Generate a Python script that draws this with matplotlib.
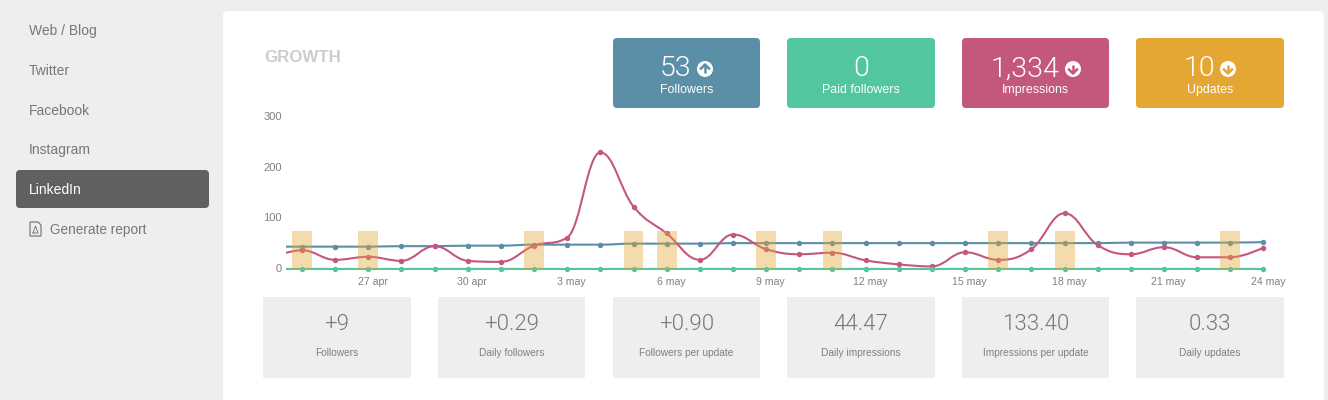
import matplotlib
matplotlib.use("Agg")
import matplotlib.pyplot as plt
import numpy as np
from matplotlib.patches import FancyBboxPatch, Circle, PathPatch, Polygon
from matplotlib.path import Path
from matplotlib.transforms import ScaledTranslation

plt.rcParams['font.family'] = ['Liberation Sans', 'DejaVu Sans']

# data
days = ["24 apr", "25 apr", "26 apr", "27 apr", "28 apr", "29 apr", "30 apr",
        "1 may", "2 may", "3 may", "4 may", "5 may", "6 may", "7 may", "8 may",
        "9 may", "10 may", "11 may", "12 may", "13 may", "14 may", "15 may",
        "16 may", "17 may", "18 may", "19 may", "20 may", "21 may", "22 may",
        "23 may", "24 may"]
followers = [44, 44, 44, 44, 45, 45, 46, 46, 48, 48, 48, 50, 50, 50, 51, 51,
             51, 51, 51, 51, 51, 51, 51, 51, 51, 51, 52, 52, 52, 52, 53]
paid = [0] * 31
impressions = [20, 37, 18, 24, 16, 45, 16, 14, 46, 62, 230, 123, 70, 18, 68, 39,
               29, 32, 17, 9, 5, 33, 18, 39, 110, 47, 29, 43, 23, 23, 42]
updates = [0, 1, 0, 1, 0, 0, 0, 0, 1, 0, 0, 1, 1, 0, 0, 1,
           0, 1, 0, 0, 0, 0, 1, 0, 1, 0, 0, 0, 0, 1, 0]

menu = ["Web / Blog", "Twitter", "Facebook", "Instagram", "LinkedIn"]
kpi_values = ["53", "0", "1,334", "10"]
kpi_labels = ["Followers", "Paid followers", "Impressions", "Updates"]
stat_values = ["+9", "+0.29", "+0.90", "44.47", "133.40", "0.33"]
stat_labels = ["Followers", "Daily followers", "Followers per update",
               "Daily impressions", "Impressions per update", "Daily updates"]

BLUE = "#5B8FA8"
GREEN = "#52C79F"
PINK = "#C4577E"
ORANGE = "#E5A733"
W, H = 1328, 400
LIGHT = ["Roboto", "Liberation Sans"]


def spline(x, y, smoothing=1.5):
    # bezier path, flat at the local peaks
    d = smoothing + 1
    verts = [(x[0], y[0])]
    codes = [Path.MOVETO]
    rights = [(x[0], y[0])]
    for i in range(1, len(x)):
        cx, cy = x[i], y[i]
        if i < len(x) - 1:
            px, py, nx, ny = x[i - 1], y[i - 1], x[i + 1], y[i + 1]
            lx = (smoothing * cx + px) / d
            ly = (smoothing * cy + py) / d
            rx = (smoothing * cx + nx) / d
            ry = (smoothing * cy + ny) / d
            slope = (ry - ly) / (rx - lx)
            ly = cy + (lx - cx) * slope
            ry = cy + (rx - cx) * slope
            if ly > py and ly > cy:
                ly = max(py, cy)
                ry = 2 * cy - ly
            elif ly < py and ly < cy:
                ly = min(py, cy)
                ry = 2 * cy - ly
            if ry > ny and ry > cy:
                ry = max(ny, cy)
                ly = 2 * cy - ry
            elif ry < ny and ry < cy:
                ry = min(ny, cy)
                ly = 2 * cy - ry
        else:
            lx, ly, rx, ry = cx, cy, cx, cy
        verts += [rights[-1], (lx, ly), (cx, cy)]
        codes += [Path.CURVE4] * 3
        rights.append((rx, ry))
    return Path(verts, codes)


fig = plt.figure(figsize=(W / 100, H / 100), dpi=100, facecolor="#EEEEEE")

# page furniture in pixel coordinates
ui = fig.add_axes([0, 0, 1, 1])
ui.set_xlim(0, W)
ui.set_ylim(H, 0)
ui.axis("off")


def box(x0, y0, x1, y1, color, r=4):
    ui.add_patch(FancyBboxPatch((x0, y0), x1 - x0, y1 - y0, boxstyle=f"round,pad=0,rounding_size={r}",
                                fc=color, ec="none"))


box(223, 11, 1324, 430, "white", 5)
box(16, 170, 209, 208, "#606060", 4)

for i, name in enumerate(menu):
    ui.text(29, [31, 71, 111, 150, 190][i], name, fontsize=10, va="center",
            color="white" if name == "LinkedIn" else "#777777")
ui.text(50, 230, "Generate report", fontsize=9.8, va="center", color="#777777")
# pdf icon
ui.add_patch(Polygon([(30, 222), (38, 222), (41, 225), (41, 236), (30, 236)], closed=True,
                     fc="none", ec="#6E6E6E", lw=0.8))
ui.plot([33, 35.5, 38, 33], [233, 226, 233, 233], color="#6E6E6E", lw=0.6)

ui.text(264, 58, "GROWTH", family="Liberation Sans", fontweight="bold", fontsize=12.2,
        color="#CCCCCC", va="center")

card_x = [(613, 760), (787, 935), (962, 1109), (1136, 1284)]
card_colors = [BLUE, GREEN, PINK, ORANGE]
num_x = [675.5, 861, 1025, 1199.5]
icon_x = [705, None, 1073, 1228]
icon_up = [True, None, False, False]
for i, (x0, x1) in enumerate(card_x):
    box(x0, 38, x1, 108, card_colors[i])
    ui.text(num_x[i], 69, kpi_values[i], color="white", family=LIGHT, fontweight=300, fontsize=20.5,
            ha="center", va="center")
    ui.text((x0 + x1) / 2, 90, kpi_labels[i], color="white", fontsize=8.9, ha="center", va="center")
    if icon_x[i]:
        cx = icon_x[i]
        ui.add_patch(Circle((cx, 69), 8, fc="white", ec="none"))
        s = -1 if icon_up[i] else 1
        ui.plot([cx, cx], [69 - 4 * s, 69 + 4 * s], color=card_colors[i], lw=1.8, solid_capstyle="butt")
        ui.plot([cx - 4, cx, cx + 4], [69 + 0.5 * s, 69 + 4.5 * s, 69 + 0.5 * s], color=card_colors[i], lw=1.8)

stat_x = [(263, 411), (438, 585)] + card_x
for i, (x0, x1) in enumerate(stat_x):
    box(x0, 297, x1, 378, "#EEEEEE", 1)
    ui.text((x0 + x1) / 2, 325, stat_values[i], color="#777777", family=LIGHT, fontweight=300, fontsize=16,
            ha="center", va="center")
    ui.text((x0 + x1) / 2, 352.5, stat_labels[i], color="#808080", fontsize=7.3, ha="center", va="center")

# chart, 24 apr is cut off by the left edge
ax = fig.add_axes([286 / W, 1 - 273 / H, (1268 - 286) / W, 156 / H])
ax.patch.set_alpha(0)
x = np.arange(len(days))
for values, color in [(followers, BLUE), (impressions, PINK), (paid, GREEN)]:
    ax.add_patch(PathPatch(spline(x, np.array(values, dtype=float)), fc="none", ec=color, lw=1.5))
    ax.plot(x, values, "o", color=color, ms=3.9, mec="none")

ppd = 33.15
ax.set_xlim(1 - 16 / ppd, 30 + 4.5 / ppd)
ax.set_ylim(-8, 300)
ax.set_yticks([0, 100, 200, 300])
ax.set_xticks(x[3::3])
ax.set_xticklabels(days[3::3])
ax.tick_params(length=0, labelsize=7.6, labelcolor="#808080")
ax.tick_params(axis="x", pad=3)
ax.tick_params(axis="y", pad=3, labelsize=8)
for lab in ax.get_xticklabels():
    lab.set_transform(lab.get_transform() + ScaledTranslation(4.5 / 100, 0, fig.dpi_scale_trans))
    lab.set_clip_on(False)
for lab in ax.get_yticklabels():
    lab.set_transform(lab.get_transform() + ScaledTranslation(0, 1 / 100, fig.dpi_scale_trans))
for s in ax.spines.values():
    s.set_visible(False)

# updates sit on their own scale, above the lines
ax2 = ax.twinx()
ax2.patch.set_alpha(0)
ax2.bar(x, updates, width=0.6, color=ORANGE, alpha=0.4, linewidth=0)
ax2.set_ylim(-8 / 75, 4)
ax2.set_yticks([])
for s in ax2.spines.values():
    s.set_visible(False)

fig.savefig("out.png", dpi=100, facecolor=fig.get_facecolor())
